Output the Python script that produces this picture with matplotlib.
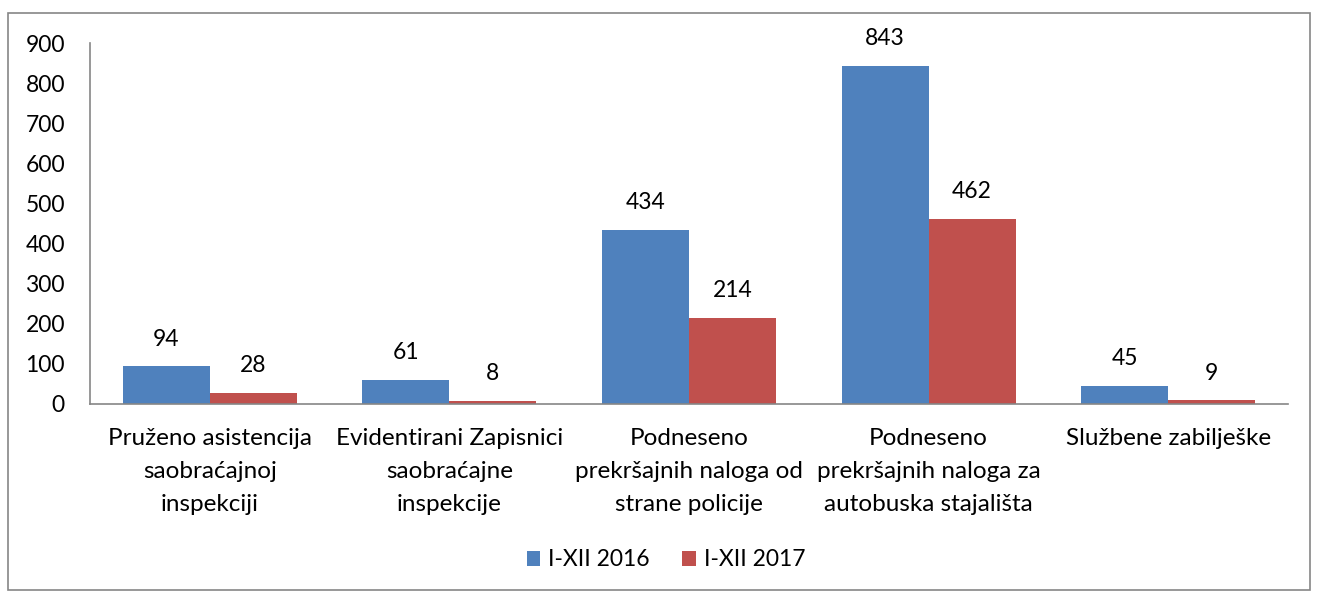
import numpy as np
import matplotlib
matplotlib.use("Agg")
import matplotlib.pyplot as plt
from matplotlib.patches import Rectangle

plt.rcParams['font.family'] = ['Lato', 'DejaVu Sans']

categories = [
    "Pruženo asistencija\nsaobraćajnoj\ninspekciji",
    "Evidentirani Zapisnici\nsaobraćajne\ninspekcije",
    "Podneseno\nprekršajnih naloga od\nstrane policije",
    "Podneseno\nprekršajnih naloga za\nautobuska stajališta",
    "Službene zabilješke",
]
series_names = ["I-XII 2016", "I-XII 2017"]
values_2016 = [94, 61, 434, 843, 45]
values_2017 = [28, 8, 214, 462, 9]
colors = ["#4F81BD", "#C0504D"]

FS = 16.5

fig = plt.figure(figsize=(13.17, 5.93), dpi=100)
ax = fig.add_axes([90 / 1317, 1 - 404 / 593, (1288 - 90) / 1317, (404 - 43) / 593])

# chart border
fig.patches.append(Rectangle((8 / 1317, 3 / 593), 1302 / 1317, 577 / 593,
                             transform=fig.transFigure, fill=False,
                             edgecolor="#868686", linewidth=1.2))

x = np.arange(len(categories))
w = 0.363
b1 = ax.bar(x - w / 2, values_2016, w, color=colors[0], label=series_names[0])
b2 = ax.bar(x + w / 2, values_2017, w, color=colors[1], label=series_names[1])

for bars in (b1, b2):
    for r in bars:
        ax.annotate(str(int(r.get_height())),
                    (r.get_x() + r.get_width() / 2, r.get_height()),
                    xytext=(0, 12), textcoords="offset points",
                    ha="center", va="bottom", fontsize=FS)

ax.set_xlim(-0.5, 4.5)
ax.set_ylim(0, 900)
ax.set_yticks(range(0, 901, 100))
ax.set_xticks(x)
ax.set_xticklabels(categories, fontsize=17.5, linespacing=1.72)
ax.tick_params(axis="y", length=0, labelsize=FS, pad=18)
ax.tick_params(axis="x", length=0, pad=17)

for s in ["top", "right"]:
    ax.spines[s].set_visible(False)
for s in ["left", "bottom"]:
    ax.spines[s].set_color("#868686")
    ax.spines[s].set_linewidth(1.2)

fig.legend(loc="center", bbox_to_anchor=(666 / 1317, 1 - 560 / 593), ncol=2,
           frameon=False, fontsize=FS, handlelength=0.6, handleheight=0.6,
           columnspacing=1.4, handletextpad=0.35)

fig.savefig("out.png", dpi=100)
